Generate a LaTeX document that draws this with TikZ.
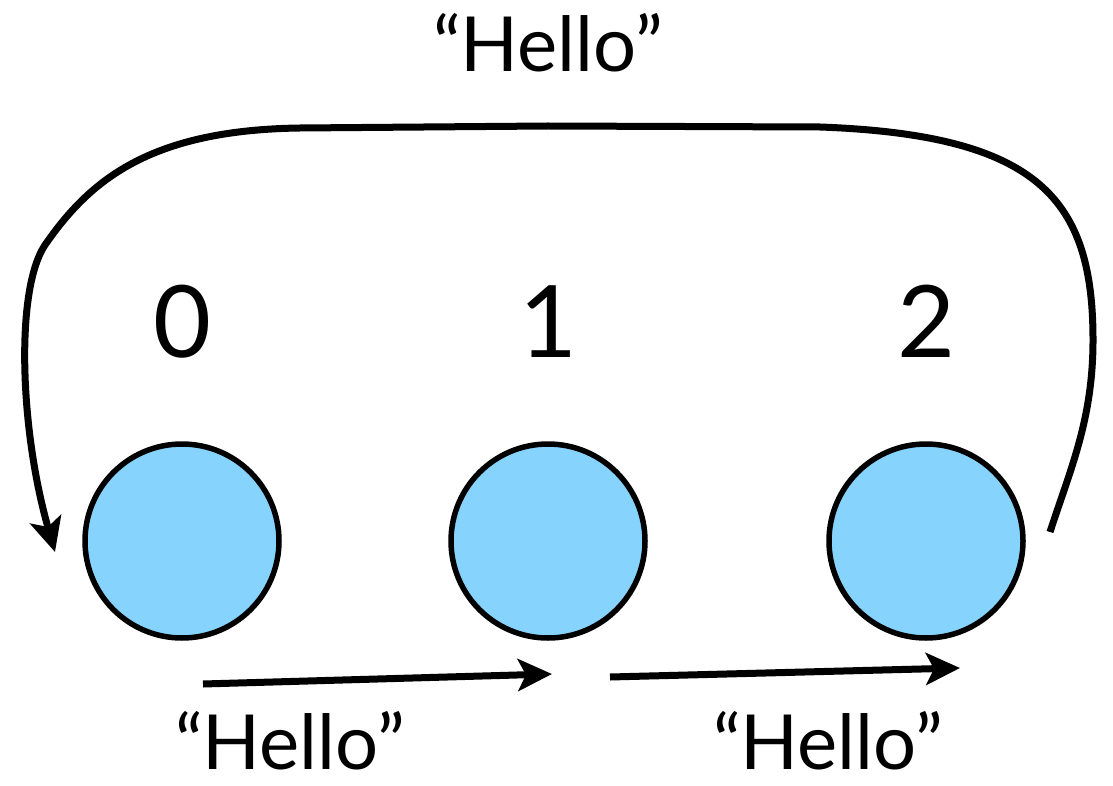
\documentclass[tikz,border=0pt]{standalone}
\usepackage{fontspec}
\setmainfont{Lato}
\usetikzlibrary{arrows.meta}
\definecolor{ballblue}{RGB}{134,212,254}
\tikzset{
  proc/.style={circle, draw=black, line width=5.5pt, fill=ballblue, minimum size=194pt, inner sep=0pt},
  rank/.style={font=\fontsize{100}{100}\selectfont, anchor=base, inner sep=0pt},
  msg/.style={font=\fontsize{76}{80}\selectfont, anchor=base, inner sep=0pt},
  conn/.style={line width=7pt, -{Stealth[length=34pt, width=32pt, inset=8pt]}}
}
\begin{document}
\begin{tikzpicture}[x=1pt, y=-1pt]
  \useasboundingbox (0,0) rectangle (1113,786);
  % processes
  \node[proc] (p0) at (182,541) {};
  \node[proc] (p1) at (548,541) {};
  \node[proc] (p2) at (926,541) {};
  % ranks
  \node[rank] (r0) at (182,357) {0};
  \node[rank] (r1) at (548,357) {1};
  \node[rank] (r2) at (926,357) {2};
  % messages
  \node[msg] (m0) at (548,72) {“Hello”};
  \node[msg] (m1) at (290,769) {“Hello”};
  \node[msg] (m2) at (828,769) {“Hello”};
  % connector ends
  \coordinate (a0) at (203,684);
  \coordinate (a1) at (552,674);
  \coordinate (b0) at (610,677);
  \coordinate (b1) at (960,668);
  \coordinate (s) at (1050,532);
  \coordinate (e) at (55,552);
  % 0 -> 1 and 1 -> 2
  \draw[conn] (a0) -- (a1);
  \draw[conn] (b0) -- (b1);
  % 2 -> 0 around the top
  \draw[conn] (s) .. controls (1070,470) and (1093,420) .. (1093,340)
    .. controls (1093,200) and (1040,135) .. (820,127)
    -- (548,126) -- (300,128)
    .. controls (150,130) and (90,180) .. (45,245)
    .. controls (15,290) and (20,430) .. (e);
\end{tikzpicture}
\end{document}
